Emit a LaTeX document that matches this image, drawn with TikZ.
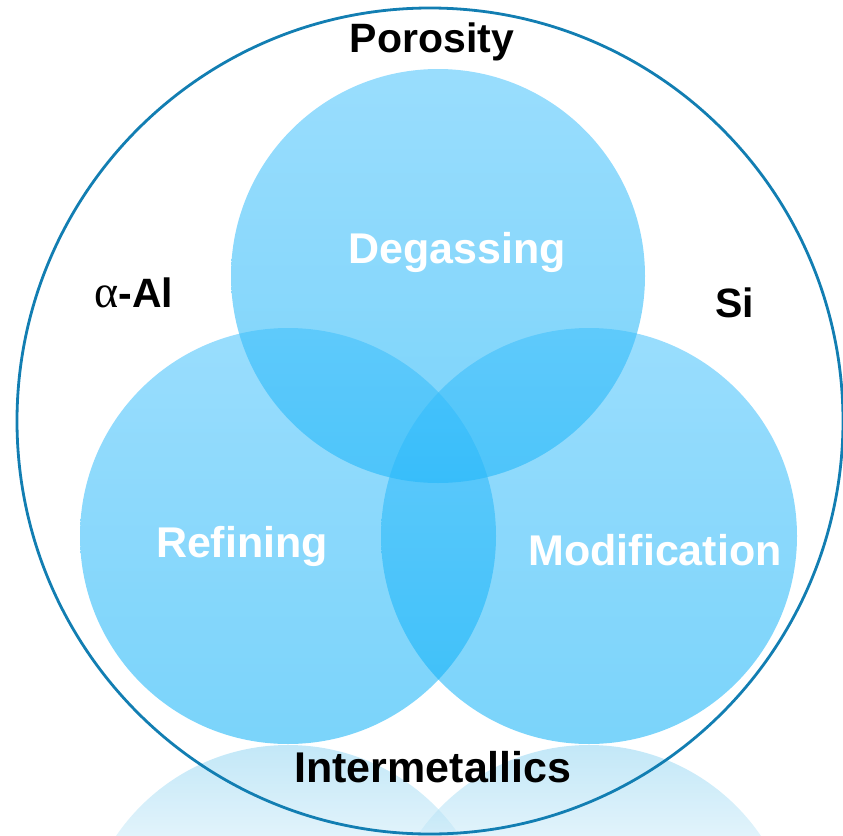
\documentclass[tikz,border=0pt]{standalone}
\usepackage{fontspec}
\setmainfont{Liberation Sans}
\newfontfamily\greekfont{Liberation Serif}
\definecolor{ringblue}{RGB}{18,126,178}
\definecolor{balltop}{RGB}{60,190,252}
\definecolor{ballbot}{RGB}{0,172,246}
\definecolor{echotop}{RGB}{135,209,241}
\definecolor{echobot}{RGB}{195,231,247}
\tikzset{
  ball/.style={top color=balltop,bottom color=ballbot,fill opacity=0.52,draw=none},
  tag/.style={anchor=base,inner sep=0pt,font=\bfseries\fontsize{41}{48}\selectfont},
  inside/.style={tag,text=white,font=\bfseries\fontsize{43}{50}\selectfont},
}
\begin{document}
\begin{tikzpicture}[x=1pt,y=-1pt]
\useasboundingbox (0,0) rectangle (843,835);
% faded mirror image below
\foreach \cx in {288,589}{
\begin{scope}
\clip (\cx,953) circle [radius=208];
\shade[top color=echotop,bottom color=echobot,fill opacity=0.5] (0,745) rectangle (843,835);
\end{scope}
}
% outer ring
\draw[ringblue,line width=2.8pt] (430,421) circle [radius=413];
% the three circles
\shade[ball] (438,276) circle [radius=207];
\shade[ball] (288,536) circle [radius=208];
\shade[ball] (589,536) circle [radius=208];
% labels
\node[tag] (poro) at (432,52) {Porosity};
\node[tag] (alal) at (134,307) {{\greekfont\mdseries\fontsize{46}{50}\selectfont α}-Al};
\node[tag] (si) at (735,317) {Si};
\node[tag,font=\bfseries\fontsize{43}{50}\selectfont] (inter) at (433,782) {Intermetallics};
\node[inside] (degas) at (457,263) {Degassing};
\node[inside] (refin) at (242,557) {Refining};
\node[inside] (modif) at (655,565) {Modification};
\end{tikzpicture}
\end{document}
